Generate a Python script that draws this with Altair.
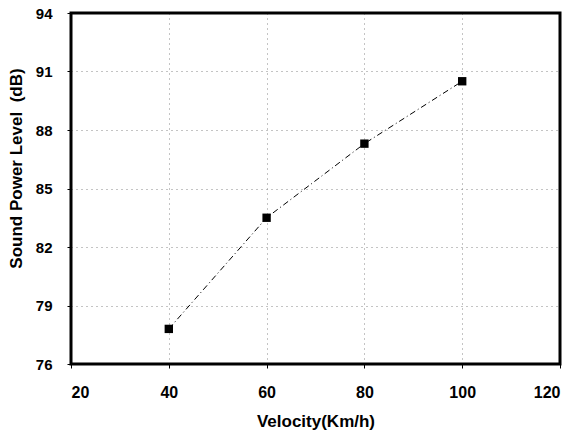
import altair as alt
import pandas as pd

velocity = [40, 60, 80, 100]
spl = [77.8, 83.5, 87.3, 90.5]
x_ticks = [20, 40, 60, 80, 100, 120]
y_ticks = [76, 79, 82, 85, 88, 91, 94]

df = pd.DataFrame({"v": velocity, "s": spl})
W, H = 489, 351

x = alt.X("v:Q", scale=alt.Scale(domain=[20, 120], nice=False),
          axis=alt.Axis(values=x_ticks, title="Velocity(Km/h)", format="d",
                        labelFont="Liberation Sans", labelFontWeight="bold", labelFontSize=16,
                        labelColor="black", titleFont="Liberation Sans", titleFontWeight="bold",
                        titleFontSize=17, titleColor="black", titleBaseline="top", titleY=49,
                        labelPadding=16,
                        tickSize=4, tickColor="black", domain=False,
                        grid=True, gridColor="#888888", gridDash=[1, 4], gridWidth=1))
y = alt.Y("s:Q", scale=alt.Scale(domain=[76, 94], nice=False),
          axis=alt.Axis(values=y_ticks, title="Sound Power Level\u00a0 (dB)", format="d",
                        labelFont="Liberation Sans", labelFontWeight="bold", labelFontSize=15,
                        labelColor="black", titleFont="Liberation Sans", titleFontWeight="bold",
                        titleFontSize=17, titleColor="black", titleY=155, titleX=-46,
                        labelPadding=15,
                        tickSize=4, tickColor="black", domain=False,
                        grid=True, gridColor="#888888", gridDash=[1, 4], gridWidth=1))

line = alt.Chart(df).mark_line(color="black", strokeWidth=1, strokeDash=[6, 3, 1, 3]).encode(x=x, y=y)
pts = alt.Chart(df).mark_square(color="black", size=70, opacity=1).encode(x=x, y=y)
frame = alt.Chart(pd.DataFrame({"f": [0]})).mark_rect(
    fill=None, fillOpacity=0, stroke="black", strokeWidth=3
).encode(x=alt.value(0), x2=alt.value(W), y=alt.value(0), y2=alt.value(H))

chart = (line + pts + frame).properties(
    width=W, height=H,
    autosize=alt.AutoSizeParams(type="none"),
    padding={"left": 71, "top": 13, "right": 16, "bottom": 73},
    background="white",
).configure_view(stroke=None)

chart.save("out.html", embed_options={"renderer": "svg", "actions": False})
